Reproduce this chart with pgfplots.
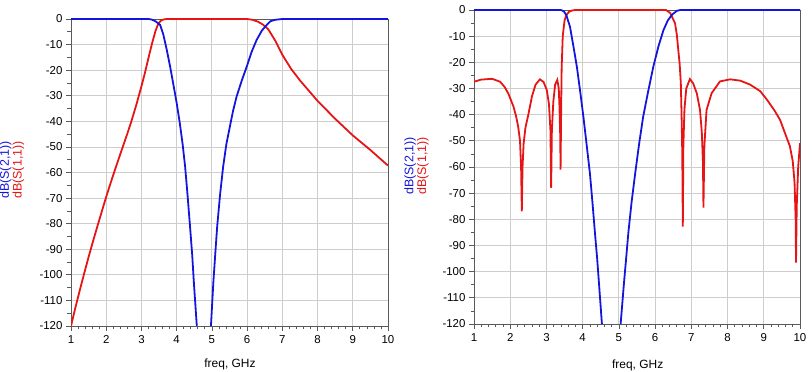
\documentclass[border=0pt]{standalone}
\usepackage{pgfplots}
\pgfplotsset{compat=1.18}
\usepackage{fontspec}
\setmainfont{Liberation Sans}
\definecolor{sblue}{RGB}{20,20,220}
\definecolor{sred}{RGB}{230,20,20}
\definecolor{axgray}{RGB}{90,90,90}
\definecolor{grgray}{RGB}{205,205,205}
\pgfplotsset{
  sp/.style={
    scale only axis,
    anchor=south west,
    xmin=1, xmax=10, ymin=-120, ymax=0,
    xtick={1,2,...,10},
    ytick={-120,-110,...,0},
    minor x tick num=4,
    minor y tick num=1,
    grid=major,
    major grid style={grgray, line width=0.8pt},
    axis line style={axgray, line width=0.8pt},
    tick style={axgray, line width=0.7pt},
    tick align=outside,
    tick pos=left,
    major tick length=5bp,
    minor tick length=3.5bp,
    /pgf/number format/assume math mode=true,
    ticklabel style={font=\fontsize{11.5}{11.5}\selectfont, text=black},
    xticklabel style={yshift=-1bp},
    clip=true,
  },
}
\begin{document}
\begin{tikzpicture}
\useasboundingbox (0,0) rectangle (812bp,372bp);
% left panel
\begin{axis}[sp, at={(71bp,46bp)}, width=317bp, height=307bp]
\addplot[sred, line width=1.8pt] coordinates {
(1,-120)(1.125,-112.8)(1.25,-106)(1.375,-99.4)(1.5,-93)(1.625,-86.9)(1.75,-81)(1.875,-75.2)(2.0,-69.5)(2.125,-64.1)(2.25,-58.9)(2.375,-53.8)(2.5,-48.8)(2.6,-44.8)(2.7,-40.6)(2.85,-33.8)(3.0,-26.3)(3.1,-21)(3.2,-15.2)(3.3,-9.6)(3.4,-4.6)(3.48,-1.8)(3.55,-0.7)(3.62,-0.2)(3.72,0)
(6.0,0)(6.15,-0.3)(6.3,-1)(6.45,-2.2)(6.6,-4)(6.8,-8.5)(7.0,-14)(7.25,-19.5)(7.5,-24)(7.75,-28)(8.0,-32)(8.5,-39)(9.0,-45.5)(9.5,-51.2)(10,-57.3)
};
\addplot[sblue, line width=1.8pt] coordinates {
(1,0)(3.2,0)(3.29,-0.2)(3.4,-0.9)(3.53,-2.3)(3.62,-6)(3.72,-12.1)(3.81,-18.3)(3.9,-25.1)(4.0,-32.8)(4.09,-40.8)(4.17,-49)(4.24,-57.7)(4.31,-69)(4.38,-81.2)(4.44,-92)(4.49,-103.3)(4.57,-119.6)(4.77,-180)(4.975,-119.6)(5.04,-103.3)(5.1,-91)(5.15,-81.2)(5.23,-69)(5.32,-57.7)(5.41,-49)(5.51,-42.1)(5.6,-36)(5.7,-30.4)(5.85,-24)(5.99,-18.6)(6.13,-12.8)(6.27,-8.2)(6.42,-4.5)(6.56,-2.3)(6.66,-0.9)(6.8,-0.3)(7.0,0)(10,0)
};
\end{axis}
% right panel
\begin{axis}[sp, at={(474bp,48bp)}, width=326bp, height=314bp]
\addplot[sred, line width=1.8pt] coordinates {
(1,-27.4)(1.2,-26.6)(1.5,-26.3)(1.72,-27.4)(1.85,-29.5)(1.95,-32)(2.09,-36.9)(2.16,-40.5)(2.22,-44.6)(2.27,-50)(2.3,-60)(2.32,-77)(2.34,-60)(2.37,-51)(2.42,-45)(2.5,-40)(2.6,-33)(2.7,-28.5)(2.82,-26.5)(2.92,-27.5)(3.01,-30.6)(3.07,-36)(3.11,-46)(3.13,-68)(3.15,-46)(3.19,-35)(3.24,-28.5)(3.3,-26.7)(3.34,-30)(3.36,-37)(3.38,-48)(3.39,-61)(3.405,-40)(3.42,-22)(3.45,-10)(3.5,-4)(3.55,-2)(3.62,-0.7)(3.7,-0.2)(3.8,0)
(6.3,0)(6.42,-1.2)(6.55,-5.1)(6.6,-9.5)(6.64,-15.3)(6.68,-21)(6.71,-28)(6.73,-40)(6.75,-55)(6.765,-82.8)(6.78,-52)(6.81,-38)(6.86,-30)(6.96,-26.4)(7.05,-28)(7.15,-31.8)(7.24,-38.2)(7.29,-47)(7.32,-58)(7.335,-75.5)(7.36,-52)(7.42,-38.2)(7.56,-31.8)(7.79,-27.3)(8.07,-26.5)(8.35,-27)(8.62,-28.5)(8.9,-31)(9.1,-34.5)(9.3,-38.5)(9.45,-42)(9.6,-47.6)(9.72,-52)(9.8,-57.8)(9.85,-66)(9.88,-80)(9.89,-96.5)(9.91,-75)(9.95,-60)(10,-50.9)
};
\addplot[sblue, line width=1.8pt] coordinates {
(1,0)(3.4,0)(3.48,-0.5)(3.55,-2)(3.65,-6.4)(3.74,-13.5)(3.84,-21.7)(3.93,-31)(4.02,-40.8)(4.11,-51.5)(4.2,-62.4)(4.27,-73.5)(4.34,-85.3)(4.4,-95)(4.45,-104.4)(4.53,-119.7)(4.8,-170)(5.05,-119.7)(5.14,-104.4)(5.2,-95)(5.26,-85.3)(5.35,-73.5)(5.45,-62.4)(5.56,-51)(5.67,-40.8)(5.81,-31)(5.95,-21.7)(6.09,-14)(6.23,-7.7)(6.35,-4)(6.46,-1.9)(6.6,-0.3)(6.7,0)(10,0)
};
\end{axis}
\node[rotate=90, align=center, font=\fontsize{12.5}{11}\selectfont] at (12bp,202bp) {\textcolor{sblue}{dB(S(2,1))}\\\textcolor{sred}{dB(S(1,1))}};
\node[rotate=90, align=center, font=\fontsize{12.5}{11}\selectfont] at (416.5bp,206bp) {\textcolor{sblue}{dB(S(2,1))}\\\textcolor{sred}{dB(S(1,1))}};
\node[font=\fontsize{12}{12}\selectfont] at (230bp,7.5bp) {freq, GHz};
\node[font=\fontsize{12}{12}\selectfont] at (637.7bp,7bp) {freq, GHz};
\end{tikzpicture}
\end{document}
